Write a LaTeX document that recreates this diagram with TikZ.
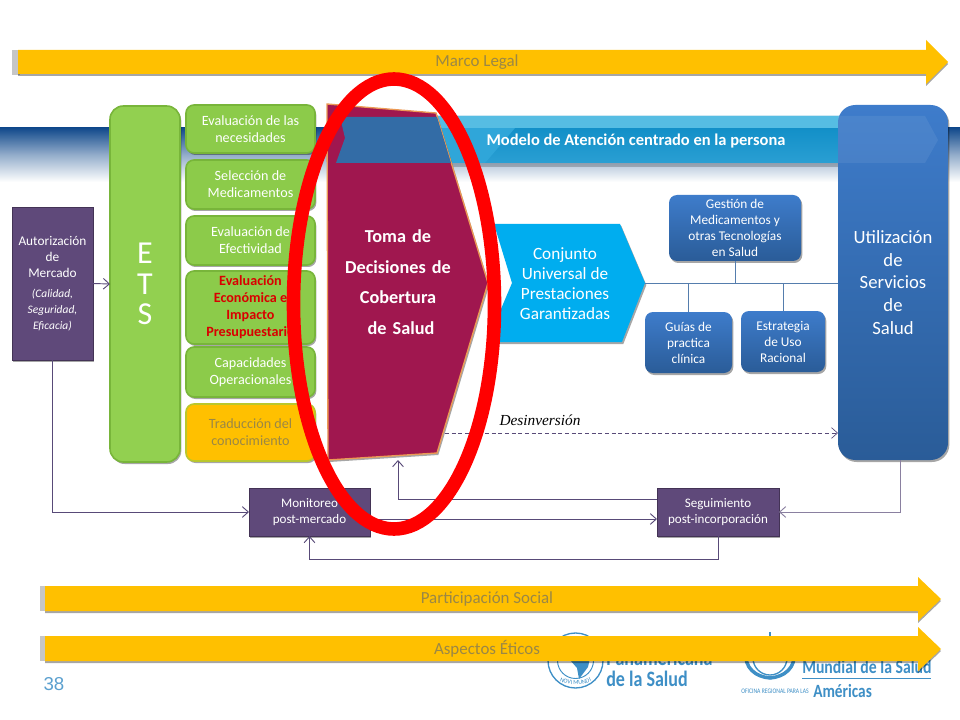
\documentclass[tikz,border=0pt]{standalone}
\usepackage{fontspec}
\setmainfont{Carlito}
\newfontfamily\serifit{Liberation Serif}
\newfontfamily\arialf{Liberation Sans}
\newfontfamily\condf[FakeStretch=.82]{Carlito}
\usetikzlibrary{arrows.meta,shadows,calc,decorations.text}
\definecolor{gold}{HTML}{FFC000}
\definecolor{goldtxt}{HTML}{9A8746}
\definecolor{leaf}{HTML}{8CCB4A}
\definecolor{leafets}{HTML}{92D050}
\definecolor{leafdark}{HTML}{78B53A}
\definecolor{plum}{HTML}{5F497A}
\definecolor{wine}{HTML}{A0174F}
\definecolor{skyb}{HTML}{00ADEF}
\definecolor{bandnavy}{HTML}{124A8C}
\definecolor{linec}{HTML}{584A78}
\definecolor{bluetop}{HTML}{3E7CCB}
\definecolor{bluebot}{HTML}{2A5C98}
\definecolor{logoblue}{HTML}{3E8FC6}
\definecolor{tomaedge}{HTML}{EC9A55}
\definecolor{barlight}{HTML}{56BDE3}
\definecolor{bartop}{HTML}{0A8AC4}
\definecolor{barbot}{HTML}{2A9FD3}
\definecolor{barsheen}{HTML}{2FA6D9}
\definecolor{barover}{HTML}{336CA6}
\newdimen\fsd
\newcommand{\fs}[1]{\fsd=#1pt \fsd=1.2\fsd \fontsize{#1}{\the\fsd}\selectfont}
\tikzset{
  sz/.style 2 args={minimum width=#1*0.75pt,minimum height=#2*0.75pt,inner sep=0pt,outer sep=0pt},
  softshadow/.style={drop shadow={shadow xshift=1pt,shadow yshift=-1.5pt,opacity=.35,fill=black}},
  greenbox/.style={rounded corners=6pt,fill=leaf,draw=leafdark,line width=1.2pt,align=center,text=white,font=\fs{10.6},softshadow},
  plumbox/.style={fill=plum,draw=plum!70!black,line width=.5pt,align=center,text=white,softshadow},
  bluebox/.style={rounded corners=6pt,top color=bluetop,bottom color=bluebot,draw=none,align=center,text=white,softshadow},
  conn/.style={draw=linec,line width=.7pt},
  busline/.style={draw=bluebot!80!white,line width=.7pt},
  arr/.style={conn,-{Straight Barb[length=4.5pt,width=8pt]}},
  bigarrow/.style={fill=gold,draw=none,drop shadow={shadow xshift=0pt,shadow yshift=-1.5pt,opacity=.35,fill=black}},
  arrowlabel/.style={text=goldtxt,font=\fs{12.7}},
  logotxt/.style={text=logoblue,inner sep=0pt,anchor=west,font=\condf\bfseries\fs{16.5}},
}
\begin{document}
\begin{tikzpicture}[x=0.75pt,y=-0.75pt]
\useasboundingbox (0,0) rectangle (960,720);
\fill[white] (0,0) rectangle (960,720);
% background band
\shade[top color=bandnavy,bottom color=white,middle color=bandnavy!45!white] (0,128) rectangle (960,182);

% logos (behind the lower arrow)
\draw[logoblue,line width=1pt] (575.5,660.5) circle (27.5);
\draw[logoblue,line width=.7pt] (575.5,660.5) circle (18);
\fill[logoblue] (572,655) -- (590,658) -- (588,667) -- (579,679) -- (577,668) -- (570,660) -- cycle;
\path[postaction={decorate,decoration={text along path,text align=center,text={|\fontsize{4.6}{5}\selectfont\color{logoblue}|NOVI MUNDI}}}] (552,675) .. controls (562,688) and (589,688) .. (599,675);
\node[logotxt] (ops1) at (606,658) {Panamericana};
\node[logotxt] (ops2) at (606,679) {de la Salud};
\draw[logoblue,line width=1pt] (770,658) circle (17);
\draw[logoblue,line width=1.5pt] (770,632) -- (770,641);
\draw[logoblue,line width=2.6pt] (746,652) .. controls (744,668) and (756,677) .. (770,678) .. controls (784,677) and (796,668) .. (794,652);
\node[logotxt,font=\condf\bfseries\fs{14.4}] (oms1) at (802,667) {Mundial de la Salud};
\draw[logoblue,line width=.6pt] (802,678) -- (931,678);
\node[logotxt,font=\condf\fs{5.2}] (oms2) at (741,691) {OFICINA REGIONAL PARA LAS};
\node[logotxt,font=\condf\bfseries\fs{14}] (oms3) at (813,691) {Américas};
\node[inner sep=0pt,text=logoblue!85!white,font=\arialf\fs{14}] (pg) at (54,684) {38};

% legal arrows
\fill[gray!45] (12,50) rectangle (20,75);
\path[bigarrow] (18,50) -- (926,50) -- (926,40) -- (948,62) -- (926,84) -- (926,74) -- (18,74) -- cycle;
\node[arrowlabel] (marco) at (477,62) {Marco Legal};
\fill[gray!45] (40,586) rectangle (47,611);
\path[bigarrow] (45,586) -- (918,586) -- (918,577) -- (941,599) -- (918,621) -- (918,611) -- (45,611) -- cycle;
\node[arrowlabel] (part) at (487,598.5) {Participación Social};
\fill[gray!45] (40,636) rectangle (47,661);
\path[bigarrow] (45,636) -- (918,636) -- (918,627) -- (941,649) -- (918,671) -- (918,661) -- (45,661) -- cycle;
\node[arrowlabel] (etic) at (487,648.5) {Aspectos Éticos};

% left column
\node[plumbox,sz={81}{153},font=\fs{10}] (auto) at (52.5,283.5) {Autorización\\de\\Mercado\\[3pt]{\itshape\fs{8.6}(Calidad,}\\{\itshape\fs{8.6}Seguridad,}\\{\itshape\fs{8.6}Eficacia)}};
\node[greenbox,fill=leafets,rounded corners=10pt,sz={70}{356},font=\fontsize{24}{23}\selectfont] (ets) at (145,284) {E\\T\\S};
\node[greenbox,sz={129}{48}] (e1) at (250.5,129) {Evaluación de las\\necesidades};
\node[greenbox,sz={129}{49}] (e2) at (250.5,184.5) {Selección de\\Medicamentos};
\node[greenbox,sz={129}{49}] (e3) at (250.5,240.5) {Evaluación de\\Efectividad};
\node[greenbox,sz={129}{73},text=red!85!black,font=\bfseries\fs{10.6}] (e4) at (250.5,307.5) {Evaluación\\Económica e\\Impacto\\Presupuestario};
\node[greenbox,sz={129}{50}] (e5) at (250.5,372) {Capacidades\\Operacionales};
\node[greenbox,sz={129}{57},fill=gold,draw=leaf!60!gold,text=goldtxt] (e6) at (250.5,432.5) {Traducción del\\conocimiento};

% model bar
\shade[top color=bartop,bottom color=barbot,drop shadow={shadow xshift=0pt,shadow yshift=-3pt,opacity=.2,fill=black}] (340,116) -- (925,116) -- (938,140) -- (925,163) -- (336,163) -- (345,138) -- cycle;
\fill[barsheen] (430,128) -- (515,128) -- (485,163) -- (430,163) -- cycle;
\fill[barlight] (340,116) -- (925,116) -- (931,128) -- (342,128) -- cycle;

% Toma polygon
\path[fill=wine,draw=tomaedge,line width=1pt,softshadow] (327,104) -- (436,113) -- (488,283) -- (437,453) -- (328,460) -- cycle;
\node[text=white,align=center,font=\bfseries\fs{13.7},inner sep=0pt,text width=130pt] (toma) at (398,282) {Toma de\\[6.5pt]Decisiones de\\[6.5pt]Cobertura\\[6.5pt]\ de Salud};
\coordinate (tomab) at (398,460);
\coordinate (tomad) at (445,433);

% bar seen over Toma
\fill[barover] (340,117) -- (437,117) -- (451,163) -- (336,163) -- (345,138) -- cycle;
\node[text=white,font=\bfseries\fs{12.35},inner sep=0pt] (modelo) at (636,141.5) {Modelo de Atención centrado en la persona};

% chevron
\path[fill=skyb,softshadow] (494,224) -- (620,224) -- (645,283) -- (622,342) -- (487,342) -- (512,283) -- cycle;
\node[text=white,align=center,font=\fontsize{12.9}{15}\selectfont,inner sep=0pt] (conj) at (565,284) {Conjunto\\Universal de\\Prestaciones\\Garantizadas};
\coordinate (chevtip) at (645,283);

% blue boxes
\node[bluebox,sz={110}{355},rounded corners=13pt,font=\fontsize{14}{17}\selectfont] (util) at (893,282.5) {Utilización\\de\\Servicios\\de\\Salud};
\fill[white,opacity=.07] (838,116) -- (925,116) -- (938,140) -- (925,163) -- (838,163) -- cycle;
\node[bluebox,sz={132}{66},font=\fs{10}] (gest) at (735,228) {Gestión de\\Medicamentos y\\otras Tecnologías\\en Salud};
\node[bluebox,sz={87}{61},font=\fs{10}] (guia) at (688.5,342.5) {Guías de\\practica\\clínica};
\node[bluebox,sz={84}{61},font=\fs{10}] (estr) at (783,341.5) {Estrategia\\de Uso\\Racional};

\coordinate (bus1) at (735,283);
\coordinate (bus2) at (688.5,283);
\coordinate (bus3) at (783,283);
\coordinate (utilw) at (838,283);
\draw[busline] (chevtip) -- (utilw);
\draw[busline] (gest.south) -- (bus1);
\draw[busline] (guia.north) -- (bus2);
\draw[busline] (estr.north) -- (bus3);

% lower boxes
\node[plumbox,sz={121}{48},font=\fs{9.8}] (moni) at (309.5,512) {Monitoreo\\post-mercado};
\node[plumbox,sz={122}{48},font=\fs{9.8}] (segu) at (718,512) {Seguimiento\\post-incorporación};

% connectors
\draw[arr] (auto.east) -- (ets.west);
\draw[arr] (auto.south) |- (moni.west);
\coordinate (utilb) at (900,460);
\coordinate (seguw) at (657,499);
\coordinate (moniE) at (370,519);
\coordinate (seguW2) at (657,519);
\draw[arr,draw=linec!70!white] (utilb) |- (segu.east);
\draw[arr] (seguw) -| (tomab);
\draw[arr] (moniE) -- (seguW2);
\draw[arr] (segu.south) -- ++(0,23) -| (moni.south);
\coordinate (utild) at (838,433);
\draw[arr,densely dashed,line width=.5pt] (tomad) -- (utild);
\node[inner sep=0pt,font=\serifit\itshape\fs{11.5},text=black] (desin) at (540,420) {Desinversión};

% red ring
\draw[red,line width=10.2pt] (394,304) ellipse [x radius=100.5,y radius=225];
\end{tikzpicture}
\end{document}
